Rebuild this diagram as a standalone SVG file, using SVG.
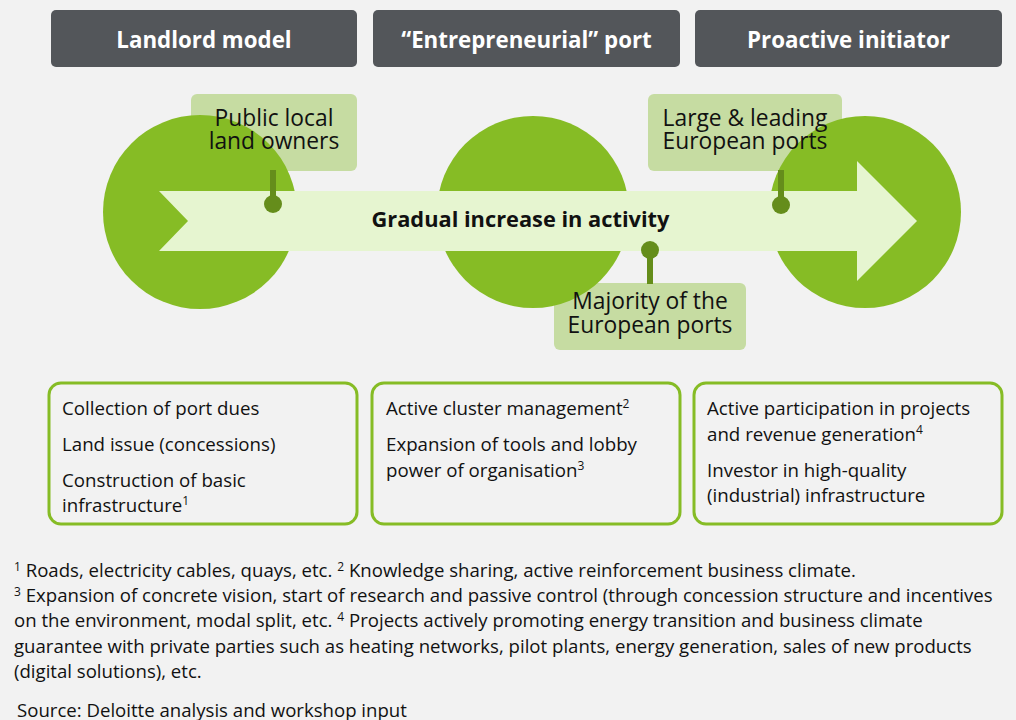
<svg xmlns="http://www.w3.org/2000/svg" width="1016" height="720" viewBox="0 0 1016 720">
<style>
.hdr{fill:#53565a}
.hdrt{font-family:"Open Sans",sans-serif;font-weight:bold;font-size:22.3px;fill:#fff;text-anchor:middle}
.circ{fill:#86bc25}
.call{fill:#c6dca2}
.callt{font-family:"Open Sans",sans-serif;font-size:22.8px;fill:#111;text-anchor:middle}
.stem{fill:#658d1b}
.box{fill:none;stroke:#86bc25;stroke-width:3}
.bt{font-family:"Open Sans",sans-serif;font-size:18.7px;fill:#111}
.fn{font-family:"Open Sans",sans-serif;font-size:18.6px;fill:#111}
.sup{font-size:12px}
</style>
<rect width="1016" height="720" fill="#f2f2f2"/>
<g id="header-landlord"><rect class="hdr" x="51" y="10" width="306" height="57" rx="5"/><text class="hdrt" x="204" y="48">Landlord model</text></g>
<g id="header-entrepreneurial"><rect class="hdr" x="373" y="10" width="307" height="57" rx="5"/><text class="hdrt" x="526.5" y="48">“Entrepreneurial” port</text></g>
<g id="header-proactive"><rect class="hdr" x="695" y="10" width="307" height="57" rx="5"/><text class="hdrt" x="848.5" y="48">Proactive initiator</text></g>

<g id="callout-public-box"><rect class="call" x="191" y="94" width="166" height="77" rx="6"/></g>
<g id="callout-large-box"><rect class="call" x="648" y="94" width="194" height="77" rx="6"/></g>
<g id="callout-majority-box"><rect class="call" x="554" y="283" width="192" height="67" rx="6"/></g>

<g id="circle-1"><circle class="circ" cx="200" cy="212" r="97"/></g>
<g id="circle-2"><circle class="circ" cx="533" cy="212" r="96"/></g>
<g id="circle-3"><circle class="circ" cx="865" cy="212" r="96"/></g>

<g id="arrow"><path d="M159,191 L857,191 L857,161 L917,221 L857,281 L857,251 L159,251 L188,221 Z" fill="#e6f5d0"/>
<text x="520.5" y="227" font-family="'Open Sans',sans-serif" font-weight="bold" font-size="21.8" fill="#111" text-anchor="middle">Gradual increase in activity</text></g>

<g id="connectors">
<rect class="stem" x="270" y="170" width="6" height="34"/><circle class="stem" cx="273" cy="204" r="9"/>
<rect class="stem" x="778" y="170" width="6" height="35"/><circle class="stem" cx="781" cy="205" r="9"/>
<rect class="stem" x="647" y="250" width="6" height="34"/><circle class="stem" cx="650" cy="250" r="9"/>
</g>

<g id="callout-public"><text class="callt"><tspan x="274" y="126">Public local</tspan><tspan x="274" y="149">land owners</tspan></text></g>
<g id="callout-large"><text class="callt"><tspan x="745" y="126">Large &amp; leading</tspan><tspan x="745" y="149">European ports</tspan></text></g>
<g id="callout-majority"><text class="callt"><tspan x="650" y="309">Majority of the</tspan><tspan x="650" y="333">European ports</tspan></text></g>

<g id="box-landlord"><rect class="box" x="49" y="383" width="308" height="141" rx="12"/>
<text class="bt" x="62" y="415">Collection of port dues</text>
<text class="bt" x="62" y="451">Land issue (concessions)</text>
<text class="bt" x="62" y="487">Construction of basic</text>
<text class="bt" x="62" y="512">infrastructure<tspan class="sup" dy="-7">1</tspan></text></g>
<g id="box-entrepreneurial"><rect class="box" x="372" y="383" width="308" height="141" rx="12"/>
<text class="bt" x="386" y="415">Active cluster management<tspan class="sup" dy="-7">2</tspan></text>
<text class="bt" x="386" y="451">Expansion of tools and lobby</text>
<text class="bt" x="386" y="477">power of organisation<tspan class="sup" dy="-7">3</tspan></text></g>
<g id="box-proactive"><rect class="box" x="694" y="383" width="308" height="141" rx="12"/>
<text class="bt" x="707" y="415">Active participation in projects</text>
<text class="bt" x="707" y="441">and revenue generation<tspan class="sup" dy="-7">4</tspan></text>
<text class="bt" x="707" y="477">Investor in high-quality</text>
<text class="bt" x="707" y="502">(industrial) infrastructure</text></g>

<g id="footnotes">
<text class="fn" x="14" y="577"><tspan class="sup" dy="-6">1</tspan><tspan dy="6"> Roads, electricity cables, quays, etc. </tspan><tspan class="sup" dy="-6">2</tspan><tspan dy="6"> Knowledge sharing, active reinforcement business climate.</tspan></text>
<text class="fn" x="14" y="602"><tspan class="sup" dy="-6">3</tspan><tspan dy="6"> Expansion of concrete vision, start of research and passive control (through concession structure and incentives</tspan></text>
<text class="fn" x="14" y="627">on the environment, modal split, etc. <tspan class="sup" dy="-6">4</tspan><tspan dy="6"> Projects actively promoting energy transition and business climate</tspan></text>
<text class="fn" x="14" y="653">guarantee with private parties such as heating networks, pilot plants, energy generation, sales of new products</text>
<text class="fn" x="14" y="678">(digital solutions), etc.</text>
<text class="fn" x="17" y="717">Source: Deloitte analysis and workshop input</text>
</g>
</svg>
